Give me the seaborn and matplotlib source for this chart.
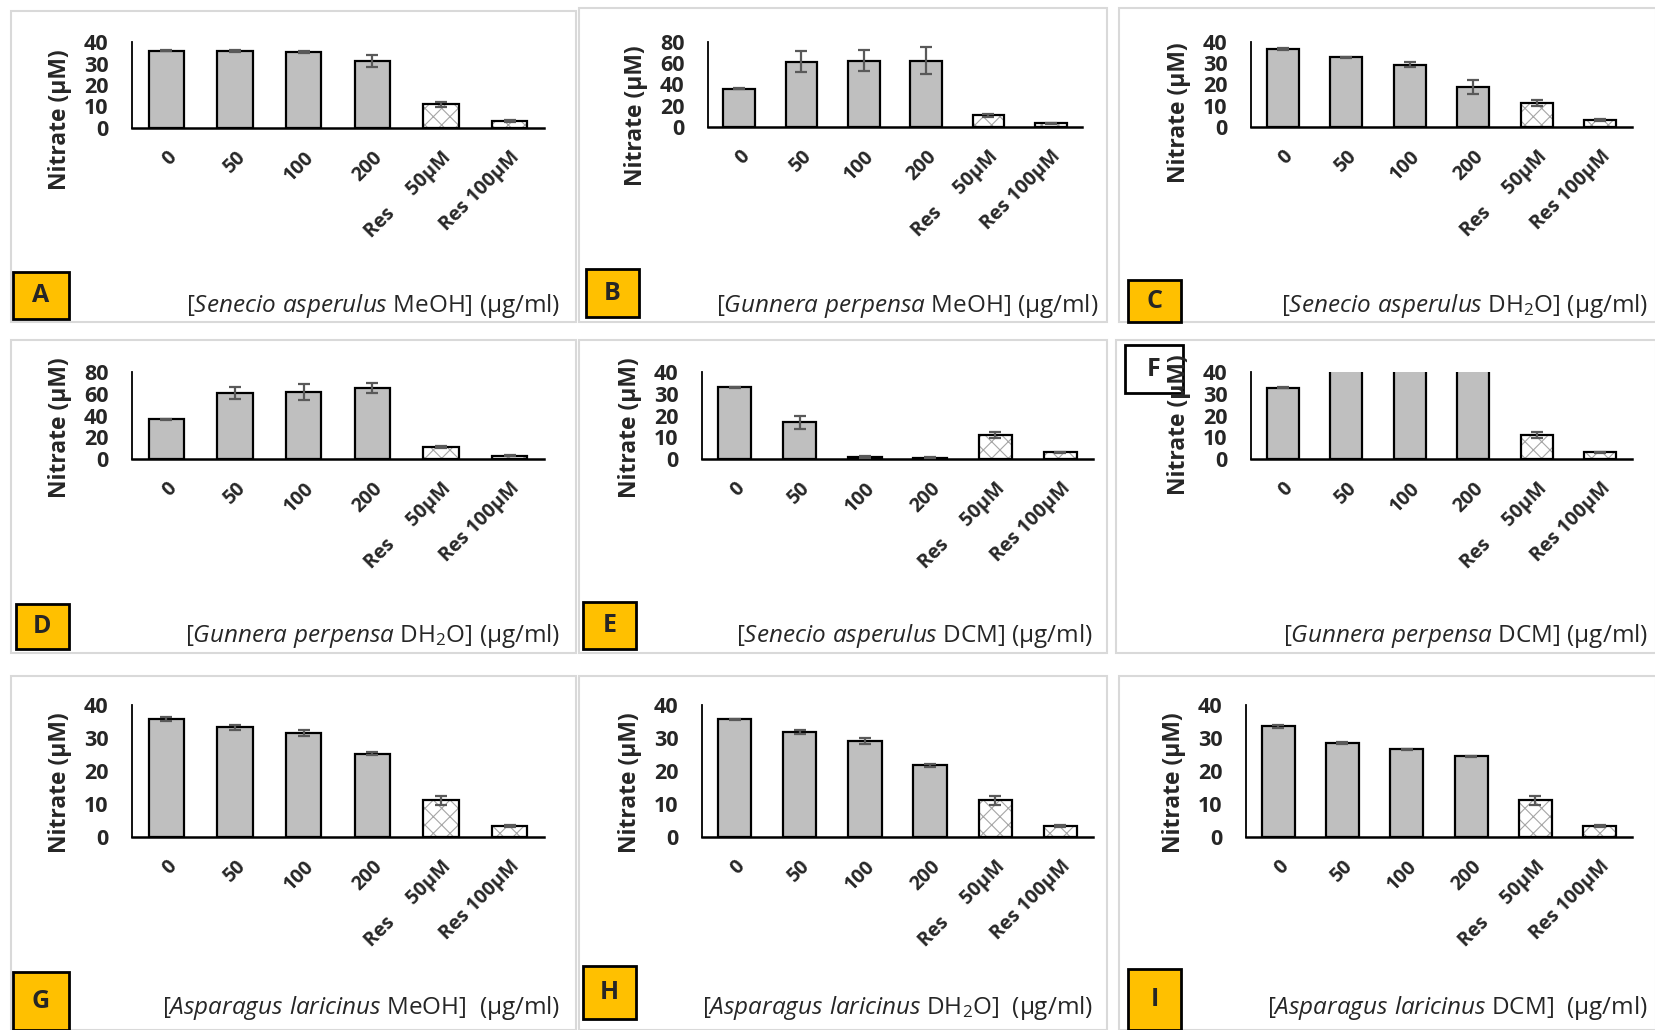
import numpy as np
import pandas as pd
import matplotlib
matplotlib.use("Agg")
import matplotlib.pyplot as plt
import seaborn as sns
from matplotlib.patches import Rectangle

# ---- data ----
categories = ["0", "50", "100", "200", "Res     50μM", "Res 100μM"]

a_mean = [36.0, 35.7, 35.2, 31.1, 11.0, 3.2]
a_err = [0.3, 0.5, 0.4, 2.7, 1.3, 0.3]
b_mean = [36.1, 61.5, 62.4, 62.4, 11.0, 3.3]
b_err = [0.5, 10.0, 10.0, 12.8, 1.3, 0.3]
c_mean = [36.6, 32.8, 29.4, 19.0, 11.2, 3.3]
c_err = [0.5, 0.3, 1.2, 3.3, 1.3, 0.3]
d_mean = [36.5, 60.5, 61.7, 65.3, 11.0, 3.0]
d_err = [0.5, 5.5, 7.3, 4.3, 1.3, 0.3]
e_mean = [32.9, 16.9, 0.8, 0.5, 11.0, 3.0]
e_err = [0.2, 3.0, 0.5, 0.2, 1.3, 0.3]
f_mean = [32.7, 60.0, 60.0, 60.0, 10.9, 3.0]
f_err = [0.2, 0.0, 0.0, 0.0, 1.3, 0.3]
g_mean = [35.7, 33.2, 31.5, 25.3, 11.1, 3.2]
g_err = [0.6, 0.8, 1.0, 0.4, 1.4, 0.3]
h_mean = [35.7, 31.9, 29.1, 21.7, 11.1, 3.2]
h_err = [0.1, 0.6, 0.8, 0.5, 1.4, 0.3]
i_mean = [33.5, 28.6, 26.6, 24.4, 11.1, 3.2]
i_err = [0.5, 0.3, 0.2, 0.1, 1.4, 0.3]

panel_letters = ["A", "B", "C", "D", "E", "F", "G", "H", "I"]
panel_titles = [
    r"[$\mathit{Senecio\ asperulus}$ MeOH] (μg/ml)",
    r"[$\mathit{Gunnera\ perpensa}$ MeOH] (μg/ml)",
    r"[$\mathit{Senecio\ asperulus}$ DH$_2$O] (μg/ml)",
    r"[$\mathit{Gunnera\ perpensa}$ DH$_2$O] (μg/ml)",
    r"[$\mathit{Senecio\ asperulus}$ DCM] (μg/ml)",
    r"[$\mathit{Gunnera\ perpensa}$ DCM] (μg/ml)",
    r"[$\mathit{Asparagus\ laricinus}$ MeOH]  (μg/ml)",
    r"[$\mathit{Asparagus\ laricinus}$ DH$_2$O]  (μg/ml)",
    r"[$\mathit{Asparagus\ laricinus}$ DCM]  (μg/ml)",
]
means = [a_mean, b_mean, c_mean, d_mean, e_mean, f_mean, g_mean, h_mean, i_mean]
errs = [a_err, b_err, c_err, d_err, e_err, f_err, g_err, h_err, i_err]
y_max = [40, 80, 40, 80, 40, 40, 40, 40, 40]
y_step = [10, 20, 10, 20, 10, 10, 10, 10, 10]

# ---- layout (pixels in the 1656x1030 reference) ----
W, H = 1656, 1030
axes_px = [  # left, top, right, bottom
    (132, 42, 544, 128), (708, 42, 1082, 127), (1251, 42, 1632, 127),
    (132, 372, 544, 459), (702, 372, 1093, 459), (1251, 372, 1632, 459),
    (132, 705, 544, 837), (702, 705, 1093, 837), (1246, 705, 1632, 837),
]
frame_px = [
    (11, 11, 576, 322), (579, 8, 1107, 322), (1119, 8, 1656, 322),
    (11, 340, 576, 653), (579, 340, 1107, 653), (1116, 340, 1656, 653),
    (11, 676, 576, 1030), (579, 676, 1107, 1030), (1119, 676, 1656, 1030),
]
box_px = [
    (13, 272, 69, 319), (586, 269, 639, 317), (1128, 280, 1181, 322),
    (16, 604, 69, 649), (583, 602, 636, 649), (1125, 345, 1183, 393),
    (13, 972, 69, 1030), (583, 966, 636, 1019), (1128, 969, 1181, 1030),
]
title_px = [
    (560, 306), (1098, 306), (1648, 306),
    (560, 636), (1093, 636), (1648, 636),
    (560, 1008), (1093, 1008), (1648, 1008),
]
ylabel_center_y = [120, 116, 113, 428, 428, 425, 783, 783, 783]


def fig_rect(l, t, r, b):
    return [l / W, 1 - b / H, (r - l) / W, (b - t) / H]


sns.set_style("white")
plt.rcParams["font.family"] = ["Open Sans", "DejaVu Sans"]
plt.rcParams["mathtext.fontset"] = "custom"
plt.rcParams["mathtext.rm"] = "Open Sans"
plt.rcParams["mathtext.it"] = "Open Sans:italic"
plt.rcParams["mathtext.bf"] = "Open Sans:bold"
plt.rcParams["hatch.linewidth"] = 0.8

fig = plt.figure(figsize=(W / 100, H / 100), dpi=100)
fig.patch.set_facecolor("white")

for k in range(9):
    # panel frame
    l, t, r, b = frame_px[k]
    fig.add_artist(Rectangle((l / W, 1 - b / H), (r - l) / W, (b - t) / H,
                             transform=fig.transFigure, fill=False,
                             edgecolor="#D9D9D9", linewidth=1.5, zorder=-2))

    al, at, ar, ab = axes_px[k]
    ax = fig.add_axes(fig_rect(al, at, ar, ab))
    df = pd.DataFrame({"group": categories, "nitrate": means[k]})
    sns.barplot(data=df, x="group", y="nitrate", color="#BFBFBF",
                edgecolor="black", linewidth=1.6, width=0.51,
                saturation=1, ax=ax)

    # resveratrol bars: white with grey cross-hatch
    for p in ax.patches[4:6]:
        p.set_facecolor("white")
        p.set_hatch("xx")
        p.set_edgecolor("#A6A6A6")
        p.set_linewidth(0)
        ax.add_patch(Rectangle(p.get_xy(), p.get_width(), p.get_height(),
                               fill=False, edgecolor="black", linewidth=1.6,
                               zorder=p.get_zorder() + 0.1))

    ax.errorbar(np.arange(len(categories)), means[k], yerr=errs[k], fmt="none",
                ecolor="#595959", elinewidth=1.6, capsize=4.5, capthick=1.6,
                zorder=5)

    ax.set_xlim(-0.5, len(categories) - 0.5)
    ax.set_ylim(0, y_max[k])
    ax.set_yticks(np.arange(0, y_max[k] + 1, y_step[k]))
    ax.tick_params(axis="both", length=0)
    ax.tick_params(axis="y", pad=17, labelsize=15.5)
    ax.tick_params(axis="x", pad=14)
    for lab in ax.get_yticklabels():
        lab.set_fontweight("bold")
    ax.set_xticks(range(len(categories)))
    ax.set_xticklabels(categories, rotation=45, ha="right",
                       rotation_mode="anchor", fontweight="bold", fontsize=14)
    ax.set_xlabel("")
    ax.set_ylabel("Nitrate (μM)", fontsize=16.5, fontweight="bold")
    ax.yaxis.set_label_coords(-60 / (ar - al),
                              (ab - ylabel_center_y[k]) / (ab - at))
    sns.despine(ax=ax)
    ax.spines["left"].set_linewidth(1.3)
    ax.spines["bottom"].set_linewidth(1.8)
    ax.spines["left"].set_color("black")
    ax.spines["bottom"].set_color("black")
    ax.patch.set_alpha(0)

    # concentration label under each panel
    tx, ty = title_px[k]
    fig.text(tx / W, 1 - ty / H, panel_titles[k], ha="right", va="center",
             fontsize=17.5)

    # panel letter box (F is a plain white box sitting under the axis title)
    l, t, r, b = box_px[k]
    is_f = panel_letters[k] == "F"
    face = "white" if is_f else "#FFC000"
    fig.add_artist(Rectangle((l / W, 1 - b / H), (r - l) / W, (b - t) / H,
                             transform=fig.transFigure, facecolor=face,
                             edgecolor="black", linewidth=2,
                             zorder=-1 if is_f else 10))
    fig.text((l + r) / 2 / W, 1 - (t + b) / 2 / H, panel_letters[k],
             ha="center", va="center", fontsize=18, fontweight="bold",
             zorder=11)

fig.savefig("out.png", dpi=100, facecolor="white")
